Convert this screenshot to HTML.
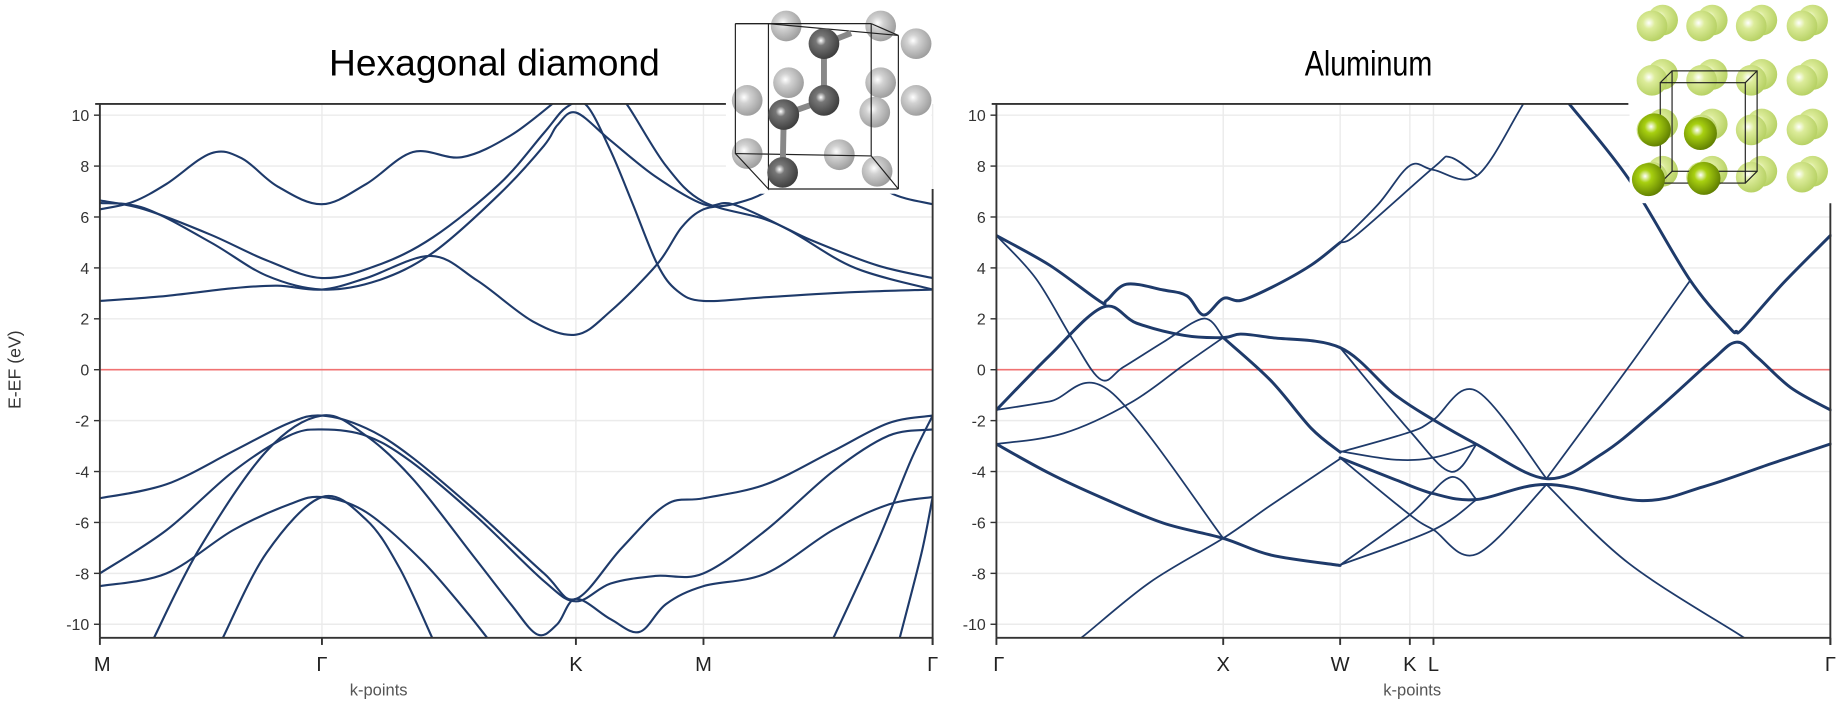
<!DOCTYPE html>
<html><head><meta charset="utf-8"><style>
html,body{margin:0;padding:0;background:#fff;}
svg{display:block;font-family:"Liberation Sans",Arial,sans-serif;}
</style></head><body>
<svg id="fig" width="1844" height="704" viewBox="0 0 1560 596" xmlns="http://www.w3.org/2000/svg">
<defs>
<clipPath id="clipL"><rect x="84" y="88" width="705" height="452"/></clipPath>
<clipPath id="clipR"><rect x="843" y="88" width="707" height="452"/></clipPath>
<radialGradient id="gLight" cx="0.4" cy="0.4" r="0.65"><stop offset="0" stop-color="#fff"/><stop offset="0.3" stop-color="#d2d2d2"/><stop offset="1" stop-color="#9a9a9a"/></radialGradient>
<radialGradient id="gDark" cx="0.4" cy="0.4" r="0.65"><stop offset="0" stop-color="#fff"/><stop offset="0.25" stop-color="#777"/><stop offset="1" stop-color="#3a3a3a"/></radialGradient>
<radialGradient id="gGreenL" cx="0.4" cy="0.4" r="0.65"><stop offset="0" stop-color="#fff"/><stop offset="0.3" stop-color="#dcec9a"/><stop offset="1" stop-color="#b4cf60"/></radialGradient>
<radialGradient id="gGreenD" cx="0.4" cy="0.4" r="0.65"><stop offset="0" stop-color="#fff"/><stop offset="0.3" stop-color="#a8d010"/><stop offset="1" stop-color="#5c7a00"/></radialGradient>
</defs>
<g id="left"></g>
<g id="right"></g>
<g id="struct"></g>
</svg>
<script>
// ---------- data ----------
const yTicks = [10,8,6,4,2,0,-2,-4,-6,-8,-10];
const leftTickLabels = ["M","Γ","K","M","Γ"];
const leftTickK = [0,1,2.144,2.718,3.75];
const rightTickLabels = ["Γ","X","W","K","L","Γ"];
const rightTickK = [0,338,512,614,649,1239];

const leftBands = [
 [[0,6.3],[0.15,6.6],[0.3,7.3],[0.5,8.5],[0.64,8.3],[0.8,7.2],[1.0,6.5],[1.2,7.3],[1.41,8.55],[1.63,8.35],[1.85,9.2],[2.06,10.6],[2.144,11.2],[2.3,11.0],[2.375,10.4],[2.55,8.0],[2.718,6.6],[3.0,5.9],[3.2,5.1],[3.5,4.1],[3.75,3.6]],
 [[0,6.65],[0.2,6.3],[0.5,5.3],[0.75,4.3],[1.0,3.6],[1.25,4.1],[1.5,5.2],[1.8,7.3],[2.0,9.3],[2.1,10.3],[2.19,10.4],[2.3,8.6],[2.4,6.5],[2.51,4.15],[2.6,3.1],[2.718,2.7],[3.0,2.85],[3.4,3.05],[3.75,3.15]],
 [[0,6.55],[0.2,6.35],[0.5,5.0],[0.75,3.7],[1.0,3.15],[1.25,3.5],[1.5,4.6],[1.8,6.9],[2.0,8.8],[2.06,9.6],[2.144,10.1],[2.3,9.0],[2.5,7.6],[2.718,6.5],[2.85,6.5],[3.1,5.5],[3.4,4.0],[3.75,3.15]],
 [[0,2.7],[0.3,2.9],[0.6,3.2],[0.8,3.3],[1.0,3.15],[1.2,3.6],[1.49,4.47],[1.7,3.5],[1.95,1.9],[2.144,1.38],[2.3,2.3],[2.51,4.15],[2.62,5.6],[2.718,6.3],[2.85,6.5],[3.0,7.0],[3.15,8.2],[3.35,8.5],[3.55,7.0],[3.75,6.5]],
 [[0,-5.05],[0.3,-4.5],[0.6,-3.2],[0.85,-2.1],[1,-1.8],[1.2,-2.3],[1.4,-3.4],[1.7,-5.6],[2.0,-8.0],[2.144,-9.0],[2.35,-7.0],[2.55,-5.3],[2.718,-5.05],[3.0,-4.5],[3.3,-3.2],[3.55,-2.1],[3.75,-1.8]],
 [[0,-8.0],[0.3,-6.3],[0.6,-4.0],[0.85,-2.6],[1,-2.35],[1.2,-2.6],[1.4,-3.6],[1.7,-5.8],[2.0,-8.3],[2.144,-9.1],[2.3,-8.4],[2.5,-8.1],[2.718,-8.0],[3.0,-6.3],[3.3,-4.0],[3.55,-2.6],[3.75,-2.35]],
 [[0.24,-10.6],[0.45,-7],[0.75,-3.2],[1,-1.8],[1.2,-2.6],[1.41,-4.3],[1.68,-7.3],[1.85,-9.2],[1.97,-10.4],[2.06,-10.0],[2.144,-9.0],[2.3,-9.8],[2.43,-10.3],[2.55,-9.2],[2.718,-8.5],[3.0,-8.0],[3.3,-6.3],[3.55,-5.3],[3.75,-5.0]],
 [[0,-8.5],[0.3,-8.0],[0.6,-6.3],[0.85,-5.3],[1,-5.0],[1.2,-5.6],[1.45,-7.5],[1.65,-9.5],[1.75,-10.6]],
 [[0.55,-10.6],[0.75,-7.2],[1,-5.0],[1.2,-5.9],[1.35,-7.8],[1.5,-10.6]],
 [[3.3,-10.6],[3.5,-6.8],[3.65,-3.6],[3.75,-1.8]],
 [[3.6,-10.6],[3.7,-7.2],[3.75,-5.0]]
];

const rightThick = [
 [[0,5.27],[79,4.11],[154,2.69],[164,2.72],[194,3.36],[249,3.13],[284,2.9],[309,2.15],[338,2.8],[364,2.72],[409,3.22],[469,4.11],[512,5.0]],
 [[0,-1.58],[79,0.55],[159,2.46],[209,1.83],[279,1.35],[338,1.26],[364,1.4],[409,1.26],[512,0.87],[591,-0.96],[649,-1.97],[713,-2.93],[817,-4.28],[900,-3.3],[980,-1.6],[1060,0.3],[1099,1.08],[1130,0.5],[1180,-0.7],[1239,-1.58]],
 [[0,-2.92],[79,-4.07],[159,-5.05],[249,-6.03],[338,-6.62],[409,-7.28],[512,-7.69]],
 [[338,1.26],[409,-0.43],[469,-2.3],[512,-3.24]],
 [[512,-3.46],[591,-4.3],[649,-4.87],[713,-5.1],[817,-4.51],[959,-5.14],[1050,-4.6],[1150,-3.7],[1239,-2.92]],
 [[815,11.6],[849,10.5],[939,7.5],[1029,3.58],[1089,1.65],[1099,1.51],[1109,1.62],[1169,3.4],[1239,5.27]]
];
const rightThin = [
 [[0,5.27],[59,3.58],[114,1.17],[156,-0.39],[189,0.1],[249,1.09],[309,2.01],[338,1.26]],
 [[512,-3.24],[614,-2.45],[649,-1.97],[713,-0.83],[817,-4.28]],
 [[817,-4.28],[939,0.1],[1029,3.45]],
 [[512,0.87],[614,-2.41],[675,-4.01],[713,-2.93]],
 [[512,-3.2],[591,-3.53],[650,-3.45],[713,-2.93]],
 [[512,-3.46],[614,-5.7],[649,-6.29],[713,-7.25],[817,-4.51]],
 [[512,-7.67],[614,-5.7],[675,-4.22],[713,-5.1]],
 [[512,-7.67],[649,-6.29],[713,-5.1]],
 [[817,-4.51],[939,-7.6],[1109,-10.5],[1130,-10.9]],
 [[110,-10.8],[129,-10.48],[229,-8.35],[338,-6.62],[409,-5.32],[512,-3.5]],
 [[0,-1.58],[79,-1.25],[169,-0.84],[338,-6.62]],
 [[0,-2.92],[100,-2.5],[200,-1.3],[280,0.2],[338,1.26]],
 [[512,5.0],[568,6.51],[614,8.02],[649,7.85],[714,7.63],[784,10.5],[815,11.6]],
 [[512,5.0],[539,5.36],[649,7.94],[674,8.35],[714,7.63]]
];

// ---------- helpers ----------
const NS="http://www.w3.org/2000/svg";
function mk(parent,tag,attrs){const e=document.createElementNS(NS,tag);for(const k in attrs)e.setAttribute(k,attrs[k]);parent.appendChild(e);return e;}
function pw(ticksK,ticksPx){return k=>{for(let i=0;i<ticksK.length-1;i++){if(k<=ticksK[i+1]||i==ticksK.length-2){return ticksPx[i]+(k-ticksK[i])/(ticksK[i+1]-ticksK[i])*(ticksPx[i+1]-ticksPx[i]);}}};}
const yS = E => 313 - E*21.55;
function curve(pts){let d="M"+pts[0][0].toFixed(1)+","+pts[0][1].toFixed(1);
 for(let i=0;i<pts.length-1;i++){const p0=pts[i-1]||pts[i],p1=pts[i],p2=pts[i+1],p3=pts[i+2]||p2;
  const c1=[p1[0]+(p2[0]-p0[0])/6,p1[1]+(p2[1]-p0[1])/6],c2=[p2[0]-(p3[0]-p1[0])/6,p2[1]-(p3[1]-p1[1])/6];
  d+="C"+c1.map(v=>v.toFixed(1))+" "+c2.map(v=>v.toFixed(1))+" "+p2[0].toFixed(1)+","+p2[1].toFixed(1);}
 return d;}

function drawPanel(g,cfg){
 const xS=pw(cfg.tickK,cfg.tickPx), x0=cfg.tickPx[0], x1=cfg.tickPx[cfg.tickPx.length-1];
 const grid=mk(g,"g",{});
 
 
 yTicks.forEach(v=>{const l=mk(grid,"line",{x1:x0,x2:x1,y1:yS(v),y2:yS(v),stroke:"#ebebeb","stroke-width":1.2});
  
  });
 cfg.tickK.forEach(k=>{const l=mk(grid,"line",{x1:xS(k),x2:xS(k),y1:88,y2:540,stroke:"#ebebeb","stroke-width":1.2});
  
  });
 const fl=mk(g,"line",{x1:x0,x2:x1,y1:yS(0),y2:yS(0),stroke:"#f07272","stroke-width":1.4});
 
 
 const bg=mk(g,"g",{"clip-path":"url(#"+cfg.clip+")",fill:"none",stroke:"#1e3a6a","stroke-linejoin":"round","stroke-linecap":"round"});
 
 
 cfg.series.forEach(s=>{s.bands.forEach(b=>{const p=mk(bg,"path",{d:curve(b.map(q=>[xS(q[0]),yS(q[1])])),"stroke-width":s.w});
   
   });});
 const ax=mk(g,"g",{stroke:"#333","stroke-width":1.6});
 
 
 mk(ax,"line",{x1:x0,x2:x0,y1:88,y2:540});
 mk(ax,"line",{x1:x0,x2:x1,y1:540,y2:540});
 mk(ax,"line",{x1:x0-4,x2:cfg.topEnd,y1:88,y2:88});
 mk(ax,"line",{x1:x1,x2:x1,y1:cfg.rightTop,y2:546});
 yTicks.forEach(v=>{mk(ax,"line",{x1:x0-5,x2:x0,y1:yS(v),y2:yS(v),"stroke-width":1.2});
  const t=mk(g,"text",{x:x0-9,y:yS(v)+5,"text-anchor":"end","font-size":13.5,fill:"#333"});t.textContent=v;
  
  });
 cfg.tickK.forEach((k,i)=>{mk(ax,"line",{x1:xS(k),x2:xS(k),y1:540,y2:546});
  const t=mk(g,"text",{x:xS(k)+(i==0?2:0),y:568,"text-anchor":"middle","font-size":17,fill:"#222"});t.textContent=cfg.labels[i];
  
  });
 const xt=mk(g,"text",{x:cfg.xTitle,y:589,"text-anchor":"middle","font-size":14,fill:"#555"});xt.textContent="k-points";
 
 
 const tt=mk(g,"text",{x:cfg.titleX,y:64,"text-anchor":"middle","font-size":cfg.titleSize,fill:"#000",textLength:cfg.titleLen,lengthAdjust:"spacingAndGlyphs"});tt.textContent=cfg.title;
 
 
}
drawPanel(document.getElementById("left"),{name:"diamond",tickK:leftTickK,tickPx:[84,272,487,595,789],labels:leftTickLabels,clip:"clipL",
 series:[{bands:leftBands,w:1.8}],topEnd:615,rightTop:160,xTitle:320,title:"Hexagonal diamond",titleX:418,titleLen:280,titleSize:31});
drawPanel(document.getElementById("right"),{name:"aluminum",tickK:rightTickK,tickPx:[843,1035,1134,1193,1213,1549],labels:rightTickLabels,clip:"clipR",
 series:[{bands:rightThin,w:1.5},{bands:rightThick,w:2.5}],topEnd:1378,rightTop:172,xTitle:1195,title:"Aluminum",titleX:1158,titleLen:108,titleSize:30});
const yt=mk(document.getElementById("left"),"text",{x:17,y:313,"text-anchor":"middle","font-size":15,fill:"#333",transform:"rotate(-90 17 313)"});
yt.textContent="E-EF (eV)";



// ---------- structure insets ----------
const S=document.getElementById("struct");
const dia=mk(S,"g",{});


mk(dia,"rect",{x:614,y:8,width:174,height:156,fill:"#fff"});
const lightC=[[665,22],[745,22],[775,37],[667,70],[745,70],[775,85],[740,95],[632,85],[632,130],[710,131],[742,145]];
const darkC=[[697,37],[697,85],[663,97],[662,146]];
lightC.forEach(c=>mk(dia,"circle",{cx:c[0],cy:c[1],r:13,fill:"url(#gLight)"}));
mk(dia,"g",{stroke:"#222","stroke-width":1,fill:"none"}).innerHTML='<polyline points="622,20 650,20 650,160 622,130 622,20"/><line x1="622" y1="20" x2="737" y2="20"/><line x1="650" y1="20" x2="760" y2="30"/><line x1="737" y1="20" x2="760" y2="30"/><line x1="760" y1="30" x2="760" y2="160"/><line x1="650" y1="160" x2="760" y2="160"/><line x1="737" y1="20" x2="737" y2="132"/><line x1="622" y1="130" x2="737" y2="132"/><line x1="737" y1="132" x2="760" y2="160"/>';
mk(dia,"g",{stroke:"#888","stroke-width":5}).innerHTML='<line x1="697" y1="37" x2="697" y2="85"/><line x1="697" y1="85" x2="663" y2="97"/><line x1="663" y1="97" x2="662" y2="146"/><line x1="697" y1="37" x2="720" y2="28"/>';
darkC.forEach(c=>mk(dia,"circle",{cx:c[0],cy:c[1],r:13,fill:"url(#gDark)"}));
const al=mk(S,"g",{});


mk(al,"rect",{x:1379,y:0,width:181,height:172,fill:"#fff"});
const gx=[1398,1440,1482,1525], gy=[22,68,110,150];
gy.forEach(y=>gx.forEach(x=>{mk(al,"circle",{cx:x+9,cy:y-5,r:13,fill:"url(#gGreenL)"});mk(al,"circle",{cx:x,cy:y,r:13,fill:"url(#gGreenL)"});}));
mk(al,"g",{stroke:"#222","stroke-width":1,fill:"none"}).innerHTML='<rect x="1405" y="70" width="72" height="85"/><rect x="1415" y="60" width="72" height="85"/><line x1="1405" y1="70" x2="1415" y2="60"/><line x1="1477" y1="70" x2="1487" y2="60"/><line x1="1405" y1="155" x2="1415" y2="145"/><line x1="1477" y1="155" x2="1487" y2="145"/>';
[[1400,110],[1439,113],[1395,152],[1442,151]].forEach(c=>mk(al,"circle",{cx:c[0],cy:c[1],r:14,fill:"url(#gGreenD)"}));
</script>
</body></html>
